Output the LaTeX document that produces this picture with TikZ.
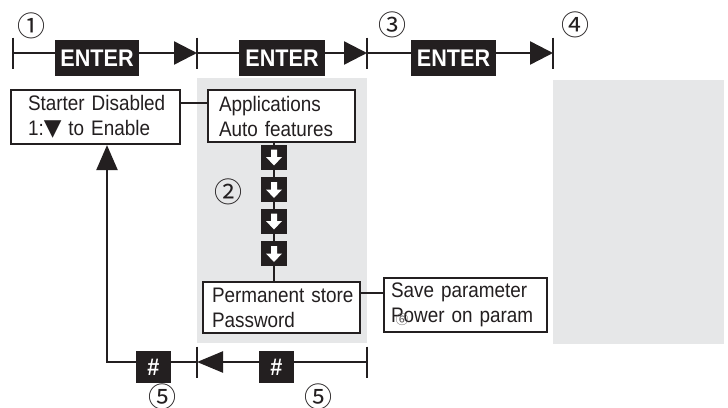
\documentclass[tikz,border=0pt]{standalone}
\usepackage{fontspec}
\setmainfont{Liberation Sans}[FakeStretch=0.9]
\newfontfamily\symf{DejaVu Sans}
\newfontfamily\cjkf{Noto Sans CJK SC}
\usetikzlibrary{arrows.meta,backgrounds}
\definecolor{ink}{HTML}{231F20}
\definecolor{panel}{HTML}{E6E7E8}
\begin{document}
\begin{tikzpicture}[x=1pt,y=-1pt,
  mainline/.style={draw=ink, line width=2.4pt},
  thinline/.style={draw=ink, line width=1.5pt},
  bigtip/.style={-{Triangle[length=23pt,width=23pt]}},
  uptip/.style={-{Triangle[length=25pt,width=21pt]}},
  lbox/.style={draw=ink, line width=2.2pt, fill=white, align=left, inner ysep=0pt,
    font=\fontsize{21}{25}\selectfont, text=ink,
    execute at begin node={\hyphenpenalty=10000\exhyphenpenalty=10000}},
  key/.style={fill=ink, text=white, inner sep=0pt,
    font=\fontsize{24}{28}\selectfont\bfseries},
  downbox/.style={fill=ink, minimum width=26pt, minimum height=25pt, inner sep=0pt,
    path picture={\fill[white]
      ([shift={(-3pt,7.5pt)}]path picture bounding box.center) --
      ([shift={(3pt,7.5pt)}]path picture bounding box.center) --
      ([shift={(3pt,0pt)}]path picture bounding box.center) --
      ([shift={(8pt,0pt)}]path picture bounding box.center) --
      ([shift={(0pt,-8.5pt)}]path picture bounding box.center) --
      ([shift={(-8pt,0pt)}]path picture bounding box.center) --
      ([shift={(-3pt,0pt)}]path picture bounding box.center) -- cycle;}},
  num/.style={font=\cjkf\fontsize{28}{28}\selectfont, text=ink, inner sep=0pt}
]
\useasboundingbox (0,0) rectangle (728,407);

% top track
\coordinate (t1) at (13,53);
\coordinate (t2) at (197,53);
\coordinate (t3) at (367,53);
\coordinate (t4) at (553,53);
\foreach \t in {t1,t2,t3,t4}{
  \draw[mainline] ([yshift=15.5pt]\t) -- ([yshift=-15.5pt]\t);
}
\draw[mainline, bigtip] (t1) -- (t2);
\draw[mainline, bigtip] (t2) -- (t3);
\draw[mainline, bigtip] (t3) -- (t4);
\node[key, minimum width=84pt, minimum height=36pt] (e1) at (97,58) {ENTER};
\node[key, minimum width=86pt, minimum height=36pt] (e2) at (282,58) {ENTER};
\node[key, minimum width=85pt, minimum height=36pt] (e3) at (453.5,58) {ENTER};

\node[num] (n1) at (31,26) {①};
\node[num] (n3) at (392,25) {③};
\node[num] (n4) at (575,25) {④};

% boxes
\node[lbox, text width=135pt, inner xsep=17pt, minimum height=54pt] (starter) at (95.5,117)
  {\mbox{Starter Disabled}\\\mbox{1:{\symf\fontsize{23}{25}\selectfont▼} to Enable}};
\node[lbox, text width=125pt, inner xsep=11pt, minimum height=52pt] (apps) at (281.5,116)
  {\mbox{Applications}\\\mbox{Auto features}};
\node[lbox, text width=139pt, inner xsep=9pt, minimum height=51pt] (perm) at (281.5,307.5)
  {\mbox{Permanent store}\\\mbox{Password}};
\node[lbox, text width=149pt, inner xsep=7pt, minimum height=54pt] (save) at (465.5,305)
  {\mbox{Save parameter}\\\mbox{Power on param}};
\node[font=\cjkf\fontsize{13}{13}\selectfont, text=ink!75, inner sep=0pt] (n6) at (402,320) {⑥};

\draw[thinline] ([yshift=14pt]starter.east) -- ([yshift=14pt]starter.east -| apps.west);
\draw[thinline] ([yshift=14.5pt]perm.east) -- ([yshift=14.5pt]perm.east -| save.west);

% column of down keys
\node[downbox] (d1) at (274,157) {};
\node[downbox] (d2) at (274,189.5) {};
\node[downbox] (d3) at (274,221) {};
\node[downbox] (d4) at (274,253.5) {};
\node[num] (n2) at (228,192) {②};

\begin{scope}[on background layer]
  \fill[panel] (197,78) rectangle (367,343);
  \fill[panel] (553,80) rectangle (724,344);
  \draw[thinline] (d1 |- apps.south) -- (d1 |- perm.north);
\end{scope}

% bottom track
\coordinate (b1) at (367,362);
\coordinate (b2) at (197,362);
\coordinate (bc) at (107,362);
\foreach \t in {b1,b2}{
  \draw[mainline] ([yshift=15.5pt]\t) -- ([yshift=-15.5pt]\t);
}
\draw[mainline, -{Triangle[length=26pt,width=21pt]}] (b1) -- (b2);
\draw[mainline, uptip] (b2) -- (bc) -- (bc |- starter.south);
\node[key, minimum width=35pt, minimum height=32pt] (h1) at (153.5,367) {\#};
\node[key, minimum width=35pt, minimum height=32pt] (h2) at (276.5,367) {\#};
\node[num] (n5a) at (162,397) {⑤};
\node[num] (n5b) at (318,397) {⑤};
\end{tikzpicture}
\end{document}
